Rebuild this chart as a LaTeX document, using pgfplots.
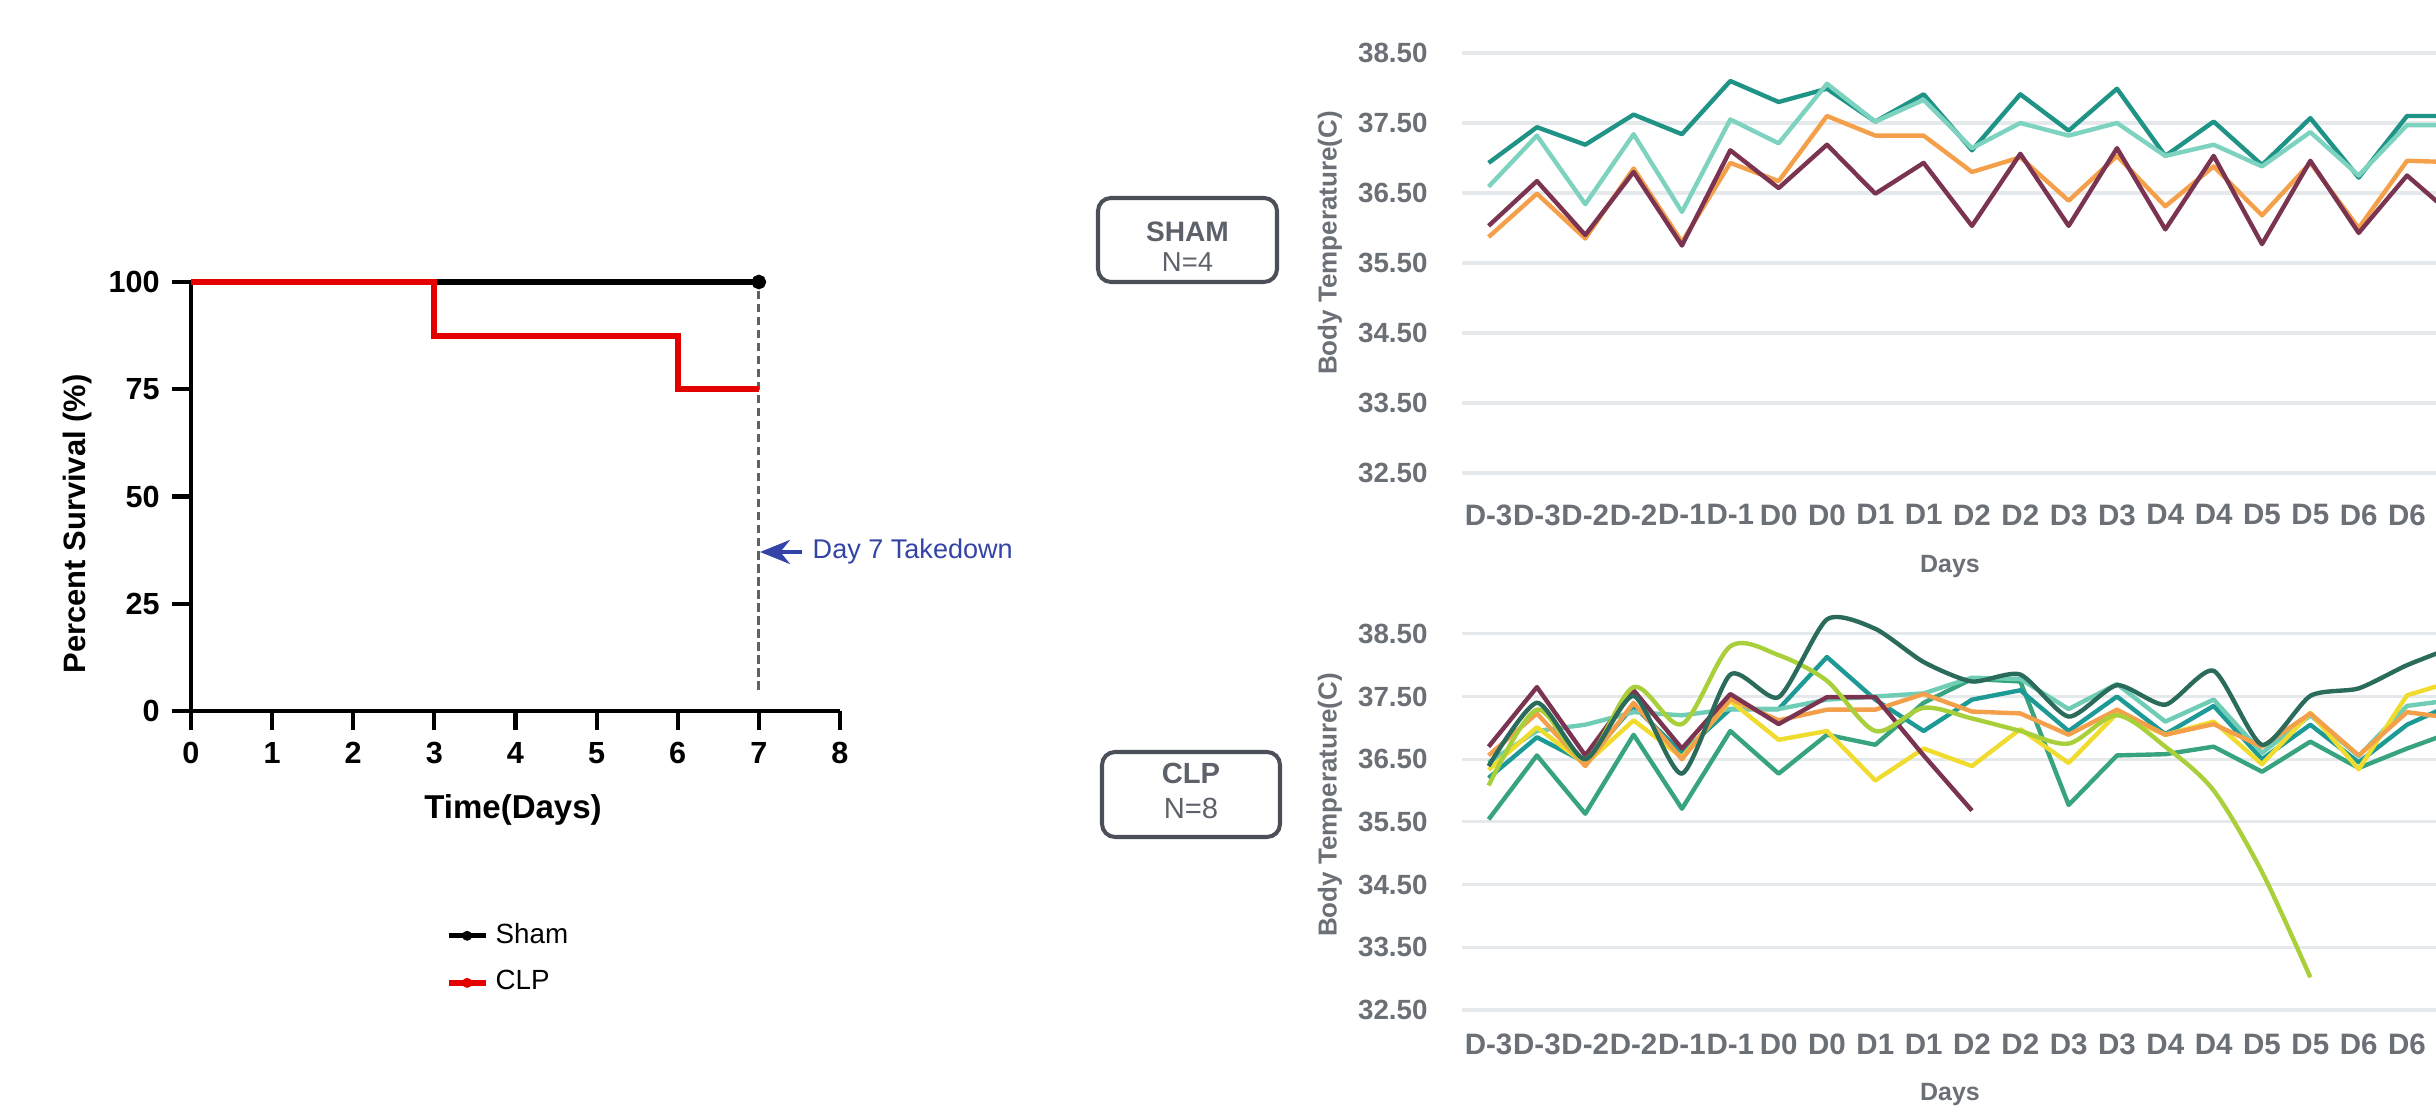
\documentclass[border=0pt]{standalone}
\usepackage{fontspec}
\setmainfont{Liberation Sans}
\usepackage{pgfplots}
\usepackage{pgfplotstable}
\pgfplotsset{compat=1.18}
\usetikzlibrary{arrows.meta}

\definecolor{tdark}{HTML}{1F9486}
\definecolor{tmint}{HTML}{7DD3BF}
\definecolor{torange}{HTML}{F4A04B}
\definecolor{tmaroon}{HTML}{7A3452}
\definecolor{cdark}{HTML}{2A6B5C}
\definecolor{cygreen}{HTML}{A9CF3B}
\definecolor{cyellow}{HTML}{F0DC2E}
\definecolor{cteal}{HTML}{37A37F}
\definecolor{cmint}{HTML}{6FCDB5}
\definecolor{cteal2}{HTML}{1E9A96}
\definecolor{gridc}{HTML}{E6E9EC}
\definecolor{labc}{HTML}{6B6F76}
\definecolor{boxc}{HTML}{4B5058}
\definecolor{arrowblue}{HTML}{3344A6}

\pgfplotstableread{
i dk mint orng mar
0 36.93 36.59 35.87 36.03
1 37.44 37.32 36.49 36.67
2 37.19 36.34 35.85 35.90
3 37.62 37.34 36.85 36.80
4 37.34 36.23 35.80 35.75
5 38.10 37.55 36.93 37.11
6 37.80 37.21 36.67 36.57
7 37.99 38.06 37.60 37.19
8 37.52 37.52 37.32 36.49
9 37.91 37.83 37.32 36.93
10 37.11 37.14 36.80 36.03
11 37.91 37.50 37.01 37.06
12 37.39 37.32 36.39 36.03
13 37.99 37.50 37.03 37.14
14 37.03 37.03 36.31 35.98
15 37.52 37.19 36.88 37.03
16 36.90 36.88 36.18 35.77
17 37.57 37.37 36.93 36.96
18 36.72 36.75 36.00 35.93
19 37.60 37.47 36.96 36.75
20 37.60 37.47 36.94 36.15
}\shamtable

\pgfplotstableread{
i A B C D E F G H
0 36.39 36.08 36.70 36.56 36.33 35.54 36.45 36.20
1 37.40 37.29 37.65 37.23 37.01 36.56 36.95 36.85
2 36.50 36.50 36.56 36.39 36.42 35.63 37.05 36.45
3 37.51 37.65 37.60 37.40 37.12 36.89 37.25 37.35
4 36.27 37.06 36.67 36.50 36.53 35.71 37.20 36.60
5 37.85 38.30 37.54 37.46 37.43 36.95 37.30 37.30
6 37.49 38.16 37.06 37.12 36.81 36.27 37.30 37.30
7 38.73 37.75 37.49 37.29 36.95 36.89 37.45 38.13
8 38.58 36.95 37.49 37.29 36.16 36.73 37.50 37.45
9 38.05 37.32 36.56 37.54 36.67 37.40 37.55 36.95
10 37.74 37.15 35.68 37.26 36.39 37.78 37.80 37.45
11 37.85 36.95 nan 37.23 36.98 37.74 37.78 37.60
12 37.18 36.75 nan 36.89 36.44 35.77 37.30 36.95
13 37.68 37.20 nan 37.29 37.23 36.56 37.70 37.50
14 37.37 36.70 nan 36.89 36.89 36.58 37.10 36.90
15 37.91 36.00 nan 37.06 37.10 36.70 37.45 37.35
16 36.73 34.70 nan 36.70 36.42 36.30 36.60 36.50
17 37.51 33.02 nan 37.23 37.24 36.78 37.20 37.05
18 37.63 nan nan 36.56 36.34 36.36 36.55 36.45
19 38.00 nan nan 37.25 37.52 36.67 37.35 37.05
20 38.30 nan nan 37.15 37.75 36.95 37.45 37.40
}\clptable

\pgfplotsset{
  tempaxis/.style={
    anchor=south west, scale only axis, width=9.74cm,
    xmin=-0.55, xmax=19.6, ymin=32.3, ymax=39.0,
    axis line style={draw=none}, major tick length=0pt, tick style={draw=none},
    ymajorgrids, grid style={gridc, line width=0.9pt},
    ytick={32.5,33.5,34.5,35.5,36.5,37.5,38.5},
    yticklabels={32.50,33.50,34.50,35.50,36.50,37.50,38.50},
    xtick={0,...,19},
    xticklabels={D-3,D-3,D-2,D-2,D-1,D-1,D0,D0,D1,D1,D2,D2,D3,D3,D4,D4,D5,D5,D6,D6},
    yticklabel style={font=\fontsize{7.9}{9}\selectfont\bfseries, text=labc, xshift=-0.22cm},
    every axis plot/.append style={line width=1.25pt, mark=none, line join=round},
  }
}

\begin{document}
\begin{tikzpicture}
\path[use as bounding box] (0,0) rectangle (24.36,11.12);

% ---------------- Survival chart ----------------
\begin{axis}[
  at={(1.91cm,4.01cm)}, anchor=south west, scale only axis,
  width=6.49cm, height=4.29cm,
  xmin=0, xmax=8, ymin=0, ymax=100,
  axis x line=bottom, axis y line=left,
  axis line style={-, line width=1.15pt},
  every outer x axis line/.append style={-},
  every outer y axis line/.append style={-},
  xtick={0,...,8}, ytick={0,25,50,75,100},
  tick align=outside, major tick length=0.19cm,
  tick style={line width=1.15pt, black},
  ticklabel style={font=\fontsize{8.7}{10}\selectfont\bfseries},
  /pgf/number format/assume math mode=true,
  clip=false,
  legend image code/.code={
    \draw[#1, mark=none] (0cm,0cm) -- (0.37cm,0cm);
    \fill[#1, draw=none] (0.185cm,0cm) circle (0.05cm);
  },
  legend cell align=left,
  legend style={at={(axis cs:3.0,-46)}, anchor=north west, draw=none, fill=none,
    font=\fontsize{7.9}{9}\selectfont, row sep=0.08cm,
    /tikz/every even column/.append style={column sep=0.05cm}},
]
\addplot[draw=black!62, line width=0.85pt, dash pattern=on 2.3pt off 1.4pt, forget plot]
  coordinates {(7,5) (7,100)};
\addplot[black, line width=1.5pt, mark=*, mark size=1.3pt, mark indices={3}]
  coordinates {(0,100) (3,100) (7,100)};
\addlegendentry{Sham}
\addplot[red!90!black, line width=1.7pt, mark=none, line join=miter]
  coordinates {(0,100) (3,100) (3,87.5) (6,87.5) (6,75) (7,75)};
\addlegendentry{CLP}
\end{axis}

\node[rotate=90, font=\fontsize{8.8}{10}\selectfont\bfseries] at (0.78,5.88) {Percent Survival (\%)};
\node[font=\fontsize{9.4}{11}\selectfont\bfseries] at (5.13,3.02) {Time(Days)};
\draw[arrowblue, line width=1.2pt, -{Stealth[length=0.3cm,width=0.24cm]}] (8.02,5.60) -- (7.60,5.60);
\node[anchor=west, text=arrowblue, font=\fontsize{7.7}{9}\selectfont, inner sep=0pt] at (8.12,5.60) {Day 7 Takedown};

% ---------------- Boxes ----------------
\draw[boxc, line width=1.15pt, rounded corners=0.13cm] (10.98,9.14) rectangle (12.77,8.30);
\node[text=boxc!90, font=\fontsize{8}{9}\selectfont\bfseries] at (11.875,8.80) {SHAM};
\node[text=boxc!90, font=\fontsize{7.8}{9}\selectfont] at (11.875,8.50) {N=4};
\draw[boxc, line width=1.15pt, rounded corners=0.13cm] (11.02,3.60) rectangle (12.80,2.75);
\node[text=boxc!90, font=\fontsize{8.3}{9}\selectfont\bfseries] at (11.91,3.39) {CLP};
\node[text=boxc!90, font=\fontsize{8.3}{9}\selectfont] at (11.91,3.04) {N=8};

% ---------------- Sham temperature ----------------
\begin{axis}[tempaxis, at={(14.62cm,6.25cm)}, height=4.69cm,
  xticklabel style={font=\fontsize{8.4}{9}\selectfont\bfseries, text=labc, yshift=-0.05cm}]
\addplot[tdark] table[x=i, y=dk] {\shamtable};
\addplot[tmint] table[x=i, y=mint] {\shamtable};
\addplot[torange] table[x=i, y=orng] {\shamtable};
\addplot[tmaroon] table[x=i, y=mar] {\shamtable};
\end{axis}
\node[rotate=90, text=labc, font=\fontsize{7.4}{9}\selectfont\bfseries] at (13.30,8.69) {Body Temperature(C)};
\node[text=labc, font=\fontsize{7.1}{8}\selectfont\bfseries] at (19.50,5.45) {Days};

% ---------------- CLP temperature ----------------
\begin{axis}[tempaxis, at={(14.62cm,0.895cm)}, height=4.20cm,
  xticklabel style={font=\fontsize{8.4}{9}\selectfont\bfseries, text=labc, yshift=0.01cm}]
\addplot[cteal] table[x=i, y=F] {\clptable};
\addplot[cteal2] table[x=i, y=H] {\clptable};
\addplot[cmint] table[x=i, y=G] {\clptable};
\addplot[cyellow] table[x=i, y=E] {\clptable};
\addplot[torange] table[x=i, y=D] {\clptable};
\addplot[tmaroon] table[x=i, y=C] {\clptable};
\addplot[cygreen, smooth, tension=0.5] table[x=i, y=B] {\clptable};
\addplot[cdark, smooth, tension=0.4] table[x=i, y=A] {\clptable};
\end{axis}
\node[rotate=90, text=labc, font=\fontsize{7.4}{9}\selectfont\bfseries] at (13.30,3.07) {Body Temperature(C)};
\node[text=labc, font=\fontsize{7.1}{8}\selectfont\bfseries] at (19.50,0.17) {Days};
\end{tikzpicture}
\end{document}
